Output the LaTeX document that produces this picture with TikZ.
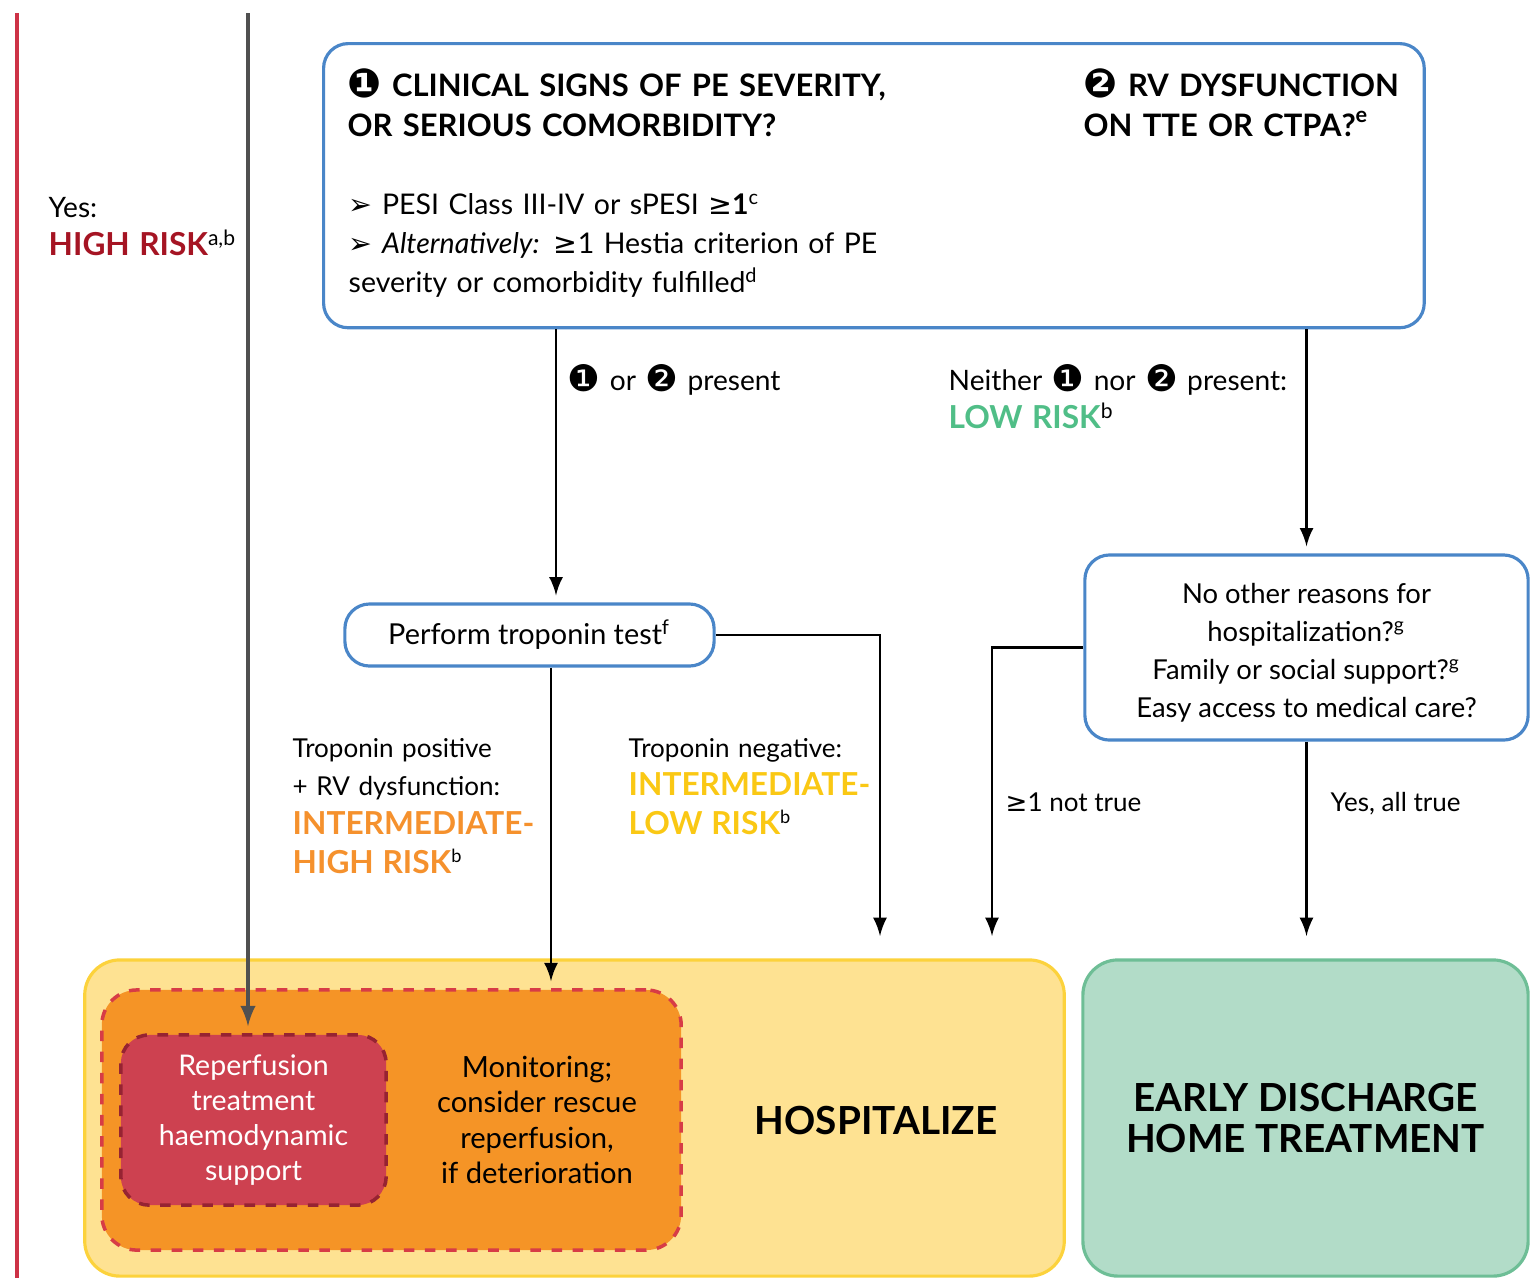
\documentclass[tikz,border=0pt]{standalone}
\usepackage{fontspec}
\setmainfont{Lato}
\newfontfamily\symf{DejaVu Sans}
\usepackage{tikz}

\definecolor{boxblue}{RGB}{74,134,200}
\definecolor{highred}{RGB}{165,20,35}
\definecolor{leftred}{RGB}{205,50,70}
\definecolor{linegray}{RGB}{80,80,80}
\definecolor{lowgreen}{RGB}{80,190,135}
\definecolor{ihorange}{RGB}{245,145,45}
\definecolor{ilyellow}{RGB}{250,200,20}
\definecolor{hospfill}{RGB}{254,226,146}
\definecolor{hospdraw}{RGB}{252,210,60}
\definecolor{orgfill}{RGB}{245,148,38}
\definecolor{orgdraw}{RGB}{215,60,70}
\definecolor{repfill}{RGB}{205,65,80}
\definecolor{repdraw}{RGB}{150,35,50}
\definecolor{dischfill}{RGB}{178,220,200}
\definecolor{dischdraw}{RGB}{110,190,150}

\newcommand{\cone}{\raisebox{-0.4pt}{\scalebox{1.3}{\symf ❶}}}
\newcommand{\ctwo}{\raisebox{-0.4pt}{\scalebox{1.3}{\symf ❷}}}
\newcommand{\bul}{{\symf ➢}}
\newcommand{\gte}{{\symf ≥}}
\newcommand{\riskfont}{\bfseries\fontsize{9}{11}\selectfont}

\begin{document}
\begin{tikzpicture}[x=0.01cm,y=-0.01cm,
    qbox/.style={draw=boxblue,line width=0.9pt,rounded corners=7pt,fill=white},
    txt/.style={inner sep=0pt,anchor=base west,align=left,font=\fontsize{8}{11}\selectfont},
    lbl/.style={txt,font=\fontsize{7.4}{11}\selectfont},
    head/.style={txt,font=\bfseries\fontsize{8.8}{11.4}\selectfont},
    arr/.style={-latex,line width=0.8pt,shorten >=2pt}]
    % 定义箭头终点的高度
    \newcommand{\arry}{943}

    \useasboundingbox (0,0) rectangle (1534,1278);

    % 左侧两条竖线
    \draw[leftred,line width=1.2pt] (17,13) -- (17,1278);
    \coordinate (hr) at (248,13);

    % 顶部问题框
    \node[qbox,minimum width=11cm,minimum height=2.84cm,anchor=north west] (clin) at (322,42) {};
    \node[head,text width=6cm] (q1) at (347,96) {\cone{} CLINICAL SIGNS OF PE SEVERITY,\\OR SERIOUS COMORBIDITY?};
    \node[head,text width=3.3cm] (q2) at (1083,96) {\ctwo{} RV DYSFUNCTION\\ON TTE OR CTPA?\textsuperscript{e}};
    \node[txt,text width=5.6cm,font=\fontsize{8.1}{11.1}\selectfont] (crit) at (348,214) {\bul{} PESI Class III-IV or sPESI \gte\textbf{1}\textsuperscript{c}\\
        \bul{} \textit{Alternatively:} \gte1 Hestia criterion of PE\\severity or comorbidity fulfilled\textsuperscript{d}};

    % 高危标注
    \node[txt,text width=2cm] (yes) at (48,217) {Yes:\\{\riskfont\color{highred}HIGH RISK}\textsuperscript{a,b}};

    % 中间的框
    \node[qbox,minimum width=3.69cm,minimum height=0.62cm,font=\fontsize{8.2}{11}\selectfont] (trop) at (529.5,635) {Perform troponin test\textsuperscript{f}};
    \node[qbox,minimum width=4.43cm,minimum height=1.85cm] (home) at (1306.5,647.5) {};
    \node[align=center,font=\fontsize{7.8}{10.8}\selectfont] (homet) at (1306.5,653)
        {No other reasons for\\hospitalization?\textsuperscript{g}\\Family or social support?\textsuperscript{g}\\Easy access to medical care?};

    % 分支标注
    \node[txt,text width=3cm] (pres) at (567,390) {\cone{} or \ctwo{} present};
    \node[txt,text width=4cm] (neith) at (948,390) {Neither \cone{} nor \ctwo{} present:\\{\riskfont\color{lowgreen}LOW RISK}\textsuperscript{b}};
    \node[lbl,text width=2.6cm] (tpos) at (292,757) {Troponin positive\\+ RV dysfunction:\\{\riskfont\color{ihorange}INTERMEDIATE-}\\{\riskfont\color{ihorange}HIGH RISK}\textsuperscript{b}};
    \node[lbl,text width=2.6cm] (tneg) at (628,757) {Troponin negative:\\{\riskfont\color{ilyellow}INTERMEDIATE-}\\{\riskfont\color{ilyellow}LOW RISK}\textsuperscript{b}};
    \node[lbl] (ntrue) at (1005,811) {\gte1 not true};
    \node[lbl] (ytrue) at (1330,811) {Yes, all true};

    % 底部结果框
    \node[draw=hospdraw,fill=hospfill,line width=0.9pt,rounded corners=10pt,minimum width=9.79cm,minimum height=3.16cm] (hosp) at (574.5,1118) {};
    \node[draw=orgdraw,fill=orgfill,dashed,line width=1pt,rounded corners=10pt,minimum width=5.79cm,minimum height=2.6cm] (mon) at (391.5,1120) {};
    \node[draw=repdraw,fill=repfill,dashed,line width=1pt,rounded corners=8pt,minimum width=2.65cm,minimum height=1.7cm,
        text=white,align=center,font=\fontsize{8.1}{10}\selectfont] (rep) at (253.5,1120) {Reperfusion\\treatment\\haemodynamic\\support};
    \node[align=center,font=\fontsize{8.3}{10}\selectfont] (montxt) at (537,1120) {Monitoring;\\consider rescue\\reperfusion,\\if deterioration};
    \node[font=\bfseries\fontsize{11}{12}\selectfont] (hosptxt) at (876,1120) {HOSPITALIZE};
    \node[draw=dischdraw,fill=dischfill,line width=0.9pt,rounded corners=10pt,minimum width=4.45cm,minimum height=3.16cm,
        align=center,font=\bfseries\fontsize{11}{11.4}\selectfont] (disch) at (1305.5,1118) {EARLY DISCHARGE\\HOME TREATMENT};

    % 箭头
    \coordinate (xa) at (556,0);
    \coordinate (xb) at (551,0);
    \coordinate (ha) at (880,\arry);
    \coordinate (hb) at (992,\arry);
    \coordinate (hc) at (1307,\arry);
    \draw[arr] (clin.south -| xa) -- (trop.north -| xa);
    \draw[arr] (clin.south -| home.north) -- (home.north);
    \draw[arr] (trop.south -| xb) -- (mon.north -| xb);
    \draw[arr] (trop.east) -| (ha);
    \draw[arr] (home.west) -| (hb);
    \draw[arr] (home.south) -- (home.south |- hc);
    \draw[arr,linegray,line width=1pt] (hr) -- (rep.north -| hr);
\end{tikzpicture}
\end{document}
